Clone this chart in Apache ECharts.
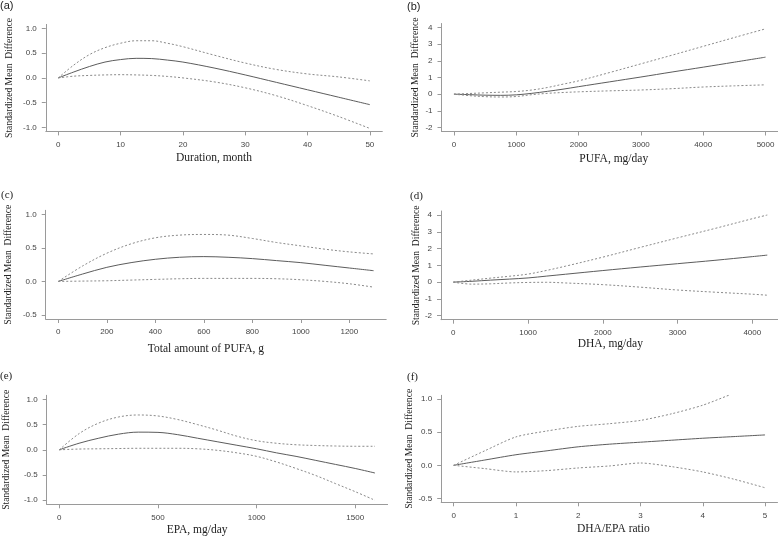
<!DOCTYPE html>
<html>
<head>
<meta charset="utf-8">
<script src="https://cdn.jsdelivr.net/npm/echarts@6/dist/echarts.min.js"></script>
<style>
  html, body { margin: 0; padding: 0; background: #fff; }
  #chart { width: 778px; height: 537px; }
</style>
</head>
<body>
<div id="chart"></div>
<script>
// (a) Duration, month
const aX     = [0, 2.5, 5, 7.5, 10, 12.5, 15, 17.5, 20, 25, 30, 35, 40, 45, 50];
const aMean  = [0, 0.12, 0.23, 0.32, 0.37, 0.395, 0.39, 0.36, 0.32, 0.2, 0.06, -0.09, -0.24, -0.39, -0.54];
const aUpper = [0, 0.26, 0.47, 0.61, 0.70, 0.75, 0.75, 0.70, 0.63, 0.46, 0.30, 0.17, 0.08, 0.02, -0.06];
const aLower = [0, 0.035, 0.05, 0.06, 0.065, 0.06, 0.05, 0.03, 0.0, -0.08, -0.2, -0.36, -0.56, -0.78, -1.02];
const aXTicks = [0, 10, 20, 30, 40, 50];
const aYTicks = [-1, -0.5, 0, 0.5, 1];

// (b) PUFA, mg/day
const bX     = [0, 250, 500, 750, 1000, 1250, 1500, 1750, 2000, 2500, 3000, 3500, 4000, 4500, 5000];
const bMean  = [0, -0.03, -0.06, -0.07, -0.04, 0.05, 0.17, 0.3, 0.45, 0.74, 1.03, 1.33, 1.62, 1.92, 2.22];
const bUpper = [0, 0.04, 0.08, 0.12, 0.16, 0.25, 0.4, 0.6, 0.8, 1.3, 1.82, 2.34, 2.87, 3.4, 3.92];
const bLower = [0, -0.09, -0.15, -0.17, -0.14, -0.03, 0.05, 0.1, 0.14, 0.2, 0.25, 0.33, 0.43, 0.5, 0.56];
const bXTicks = [0, 1000, 2000, 3000, 4000, 5000];
const bYTicks = [-2, -1, 0, 1, 2, 3, 4];

// (c) Total amount of PUFA, g
const cX     = [0, 100, 200, 300, 400, 500, 600, 700, 800, 900, 1000, 1100, 1200, 1300];
const cMean  = [0, 0.11, 0.21, 0.28, 0.33, 0.36, 0.37, 0.36, 0.34, 0.31, 0.28, 0.24, 0.2, 0.16];
const cUpper = [0, 0.23, 0.42, 0.56, 0.65, 0.69, 0.70, 0.69, 0.64, 0.58, 0.53, 0.48, 0.44, 0.41];
const cLower = [0, 0.005, 0.01, 0.02, 0.03, 0.04, 0.045, 0.045, 0.045, 0.04, 0.025, 0.0, -0.035, -0.085];
const cXTicks = [0, 200, 400, 600, 800, 1000, 1200];
const cYTicks = [-0.5, 0, 0.5, 1];

// (d) DHA, mg/day
const dX     = [0, 250, 500, 750, 1000, 1250, 1500, 2000, 2500, 3000, 3500, 4000, 4200];
const dMean  = [0, 0.05, 0.12, 0.18, 0.25, 0.36, 0.47, 0.69, 0.9, 1.1, 1.3, 1.52, 1.61];
const dUpper = [0, 0.12, 0.24, 0.35, 0.48, 0.7, 0.95, 1.49, 2.07, 2.64, 3.2, 3.78, 4.0];
const dLower = [0, -0.12, -0.1, -0.05, -0.02, -0.01, -0.05, -0.15, -0.3, -0.47, -0.6, -0.72, -0.78];
const dXTicks = [0, 1000, 2000, 3000, 4000];
const dYTicks = [-2, -1, 0, 1, 2, 3, 4];

// (e) EPA, mg/day
const eX     = [0, 100, 200, 300, 400, 500, 600, 700, 800, 900, 1000, 1100, 1200, 1300, 1400, 1500, 1600];
const eMean  = [0, 0.13, 0.23, 0.31, 0.35, 0.345, 0.3, 0.23, 0.16, 0.09, 0.02, -0.06, -0.13, -0.21, -0.29, -0.37, -0.46];
const eUpper = [0, 0.32, 0.53, 0.65, 0.69, 0.67, 0.6, 0.5, 0.39, 0.27, 0.18, 0.13, 0.1, 0.085, 0.075, 0.07, 0.07];
const eLower = [0, 0.015, 0.02, 0.025, 0.03, 0.03, 0.03, 0.02, -0.01, -0.06, -0.13, -0.24, -0.37, -0.51, -0.67, -0.83, -1.0];
const eXTicks = [0, 500, 1000, 1500];
const eYTicks = [-1, -0.5, 0, 0.5, 1];

// (f) DHA/EPA ratio
const fX      = [0, 0.5, 1, 1.5, 2, 2.5, 3, 3.5, 4, 4.5, 5];
const fMean   = [0, 0.08, 0.16, 0.22, 0.28, 0.32, 0.35, 0.38, 0.41, 0.435, 0.46];
const fUpperX = [0, 0.5, 1, 1.5, 2, 2.5, 3, 3.5, 4, 4.44];
const fUpper  = [0, 0.22, 0.43, 0.52, 0.59, 0.63, 0.68, 0.78, 0.91, 1.07];
const fLower  = [0, -0.05, -0.1, -0.08, -0.04, -0.01, 0.035, -0.02, -0.1, -0.21, -0.34];
const fXTicks = [0, 1, 2, 3, 4, 5];
const fYTicks = [-0.5, 0, 0.5, 1];

const yTitle = 'Standardized Mean  Difference';
const serif = '"Liberation Serif", "Times New Roman", serif';
const sans = '"Liberation Sans", Arial, sans-serif';

// layout of each panel (pixel boxes)
const panels = [
    {label: '(a)', labelFont: sans, lx: 0, ly: 0, grid: {left: 45.8, top: 24.4, width: 336.5, height: 107},
     xRange: [-2, 52], yRange: [-1.08, 1.08], xTicks: aXTicks, yTicks: aYTicks, dec: 1,
     xName: 'Duration, month', xGap: 21, xPad: [0, 0, 0, 0], yGap: 31,
     mean: [aX, aMean], upper: [aX, aUpper], lower: [aX, aLower], smooth: 0.35},
    {label: '(b)', labelFont: sans, lx: 407, ly: 1, grid: {left: 441.5, top: 23.5, width: 336.5, height: 108},
     xRange: [-200, 5200], yRange: [-2.24, 4.24], xTicks: bXTicks, yTicks: bYTicks, dec: 0,
     xName: 'PUFA, mg/day', xGap: 21, xPad: [0, 0, 0, 8], yGap: 21,
     mean: [bX, bMean], upper: [bX, bUpper], lower: [bX, bLower], smooth: 0.35},
    {label: '(c)', labelFont: serif, lx: 1, ly: 190, grid: {left: 45.7, top: 210.3, width: 340.5, height: 108.7},
     xRange: [-52, 1352], yRange: [-0.56, 1.06], xTicks: cXTicks, yTicks: cYTicks, dec: 1,
     xName: 'Total amount of PUFA, g', xGap: 24, xPad: [0, 20, 0, 0], yGap: 32,
     mean: [cX, cMean], upper: [cX, cUpper], lower: [cX, cLower], smooth: 0.35},
    {label: '(d)', labelFont: serif, lx: 410, ly: 191, grid: {left: 441, top: 211, width: 338.6, height: 108.7},
     xRange: [-165, 4365], yRange: [-2.24, 4.24], xTicks: dXTicks, yTicks: dYTicks, dec: 0,
     xName: 'DHA, mg/day', xGap: 13, xPad: [0, 0, 0, 0], yGap: 19,
     mean: [dX, dMean], upper: [dX, dUpper], lower: [dX, dLower], smooth: 0.35},
    {label: '(e)', labelFont: serif, lx: 0, ly: 371, grid: {left: 46.7, top: 395.3, width: 340.9, height: 109},
     xRange: [-64, 1664], yRange: [-1.08, 1.08], xTicks: eXTicks, yTicks: eYTicks, dec: 1,
     xName: 'EPA, mg/day', xGap: 20, xPad: [0, 40, 0, 0], yGap: 35,
     mean: [eX, eMean], upper: [eX, eUpper], lower: [eX, eLower], smooth: 0.35},
    {label: '(f)', labelFont: serif, lx: 407, ly: 372, grid: {left: 441.2, top: 395.3, width: 336.3, height: 107},
     xRange: [-0.2, 5.2], yRange: [-0.56, 1.06], xTicks: fXTicks, yTicks: fYTicks, dec: 1,
     xName: 'DHA/EPA ratio', xGap: 21, xPad: [0, 0, 0, 8], yGap: 22,
     mean: [fX, fMean], upper: [fUpperX, fUpper], lower: [fX, fLower], smooth: 0.25}
];

const zip = (xs, ys) => xs.map((x, i) => [x, ys[i]]);
const axisGray = '#9a9a9a';

const option = {
    animation: false,
    backgroundColor: '#fff',
    textStyle: {fontFamily: sans},
    title: [],
    grid: [],
    xAxis: [],
    yAxis: [],
    series: []
};

panels.forEach((p, i) => {
    option.title.push({
        text: p.label, left: p.lx, top: p.ly, padding: 0,
        textStyle: {fontFamily: p.labelFont, fontSize: 11, fontWeight: 'normal', color: '#222'}
    });
    option.grid.push(Object.assign({containLabel: false, outerBoundsMode: 'none'}, p.grid));
    option.xAxis.push({
        type: 'value', gridIndex: i, min: p.xRange[0], max: p.xRange[1],
        name: p.xName, nameLocation: 'middle', nameGap: p.xGap,
        nameTextStyle: {fontFamily: serif, fontSize: 11.5, color: '#222', padding: p.xPad},
        axisLine: {show: true, onZero: false, lineStyle: {color: axisGray, width: 1}},
        axisTick: {show: true, length: 4, customValues: p.xTicks, lineStyle: {color: axisGray}},
        axisLabel: {customValues: p.xTicks, margin: 9, fontSize: 8, color: '#444', fontFamily: sans,
            formatter: v => String(v)},
        splitLine: {show: false}
    });
    option.yAxis.push({
        type: 'value', gridIndex: i, min: p.yRange[0], max: p.yRange[1],
        name: yTitle, nameLocation: 'middle', nameGap: p.yGap, nameRotate: 90,
        nameTextStyle: {fontFamily: serif, fontSize: 9.6, color: '#222'},
        axisLine: {show: true, onZero: false, lineStyle: {color: axisGray, width: 1}},
        axisTick: {show: true, length: 4, customValues: p.yTicks, lineStyle: {color: axisGray}},
        axisLabel: {customValues: p.yTicks, margin: 9, fontSize: 8, color: '#444', fontFamily: sans,
            formatter: v => v.toFixed(p.dec)},
        splitLine: {show: false}
    });
    const base = {type: 'line', xAxisIndex: i, yAxisIndex: i, showSymbol: false, symbol: 'none',
        smooth: p.smooth, silent: true};
    option.series.push(Object.assign({}, base, {
        name: 'mean', data: zip(p.mean[0], p.mean[1]),
        lineStyle: {color: '#5c5c5c', width: 1, type: 'solid'}
    }));
    option.series.push(Object.assign({}, base, {
        name: 'upper', data: zip(p.upper[0], p.upper[1]),
        lineStyle: {color: '#8a8a8a', width: 1, type: [2, 2]}
    }));
    option.series.push(Object.assign({}, base, {
        name: 'lower', data: zip(p.lower[0], p.lower[1]),
        lineStyle: {color: '#8a8a8a', width: 1, type: [2, 2]}
    }));
});

const chart = echarts.init(document.getElementById('chart'));
chart.setOption(option);
</script>
</body>
</html>
